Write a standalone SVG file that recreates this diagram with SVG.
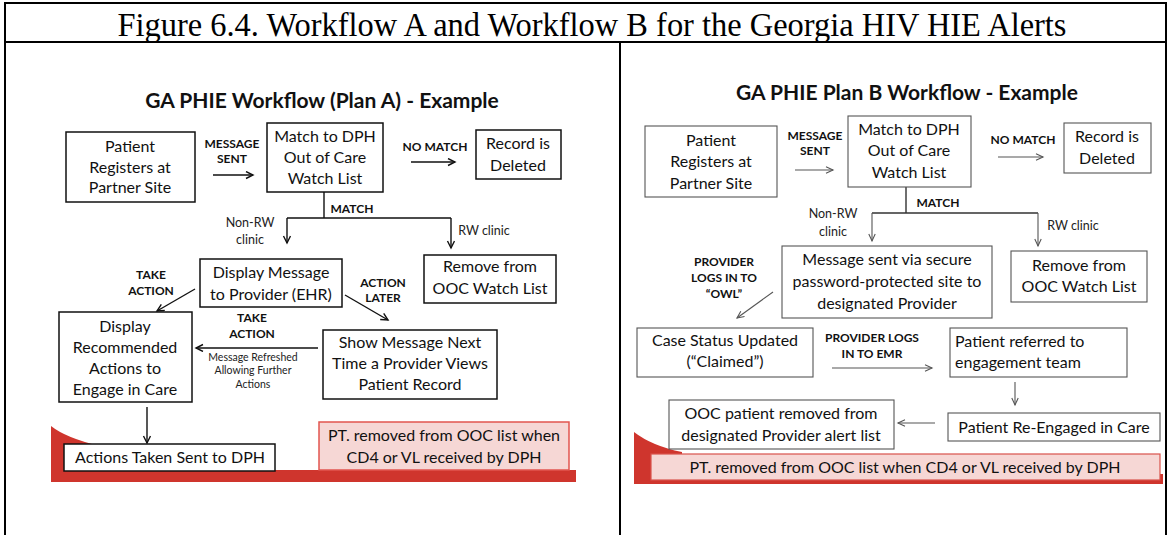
<svg xmlns="http://www.w3.org/2000/svg" width="1169" height="535" viewBox="0 0 1169 535">
<defs>
<marker id="arrA" markerUnits="userSpaceOnUse" markerWidth="10" markerHeight="10" refX="8" refY="4" orient="auto"><path d="M1,0.5 L8,4 L1,7.5" fill="none" stroke="#111" stroke-width="1.4"/></marker>
<marker id="arrB" markerUnits="userSpaceOnUse" markerWidth="10" markerHeight="10" refX="8" refY="4" orient="auto"><path d="M1,0.8 L8,4 L1,7.2" fill="none" stroke="#555" stroke-width="1.1"/></marker>
<style>
.frame{fill:none;stroke:#000;stroke-width:2}
.title{font-family:"Liberation Serif","Times New Roman",serif;font-size:34px;fill:#000}
.ptitle{font-family:Lato,"Open Sans",sans-serif;font-weight:bold;font-size:21px;fill:#111;text-anchor:middle}
.boxA{fill:#fff;stroke:#111;stroke-width:1.5}
.boxB{fill:#fff;stroke:#555;stroke-width:1.1}
.pink{fill:#f6d7d5;stroke:#e2554f;stroke-width:1.5}
.t{font-family:Lato,"Open Sans",sans-serif;font-size:16px;fill:#111;text-anchor:middle}
.tl{font-family:Lato,"Open Sans",sans-serif;font-size:16px;fill:#111}
.lb{font-family:Lato,"Open Sans",sans-serif;font-weight:bold;font-size:12px;fill:#111;text-anchor:middle}
.lr{font-family:Lato,"Open Sans",sans-serif;font-size:12.5px;fill:#222;text-anchor:middle}
.ls{font-family:Lato,"Open Sans",sans-serif;font-size:10.5px;fill:#222;text-anchor:middle}
.cA{fill:none;stroke:#111;stroke-width:1.4}
.cB{fill:none;stroke:#555;stroke-width:1.1}
.red{fill:#cf352d}
</style>
</defs>

<g id="table">
<rect class="frame" x="5" y="3" width="1161" height="540"/>
<line class="frame" x1="5" y1="42" x2="1166" y2="42"/>
<line class="frame" x1="620" y1="42" x2="620" y2="535"/>
<text class="title" x="592" y="36" text-anchor="middle" textLength="949" lengthAdjust="spacingAndGlyphs">Figure 6.4. Workflow A and Workflow B for the Georgia HIV HIE Alerts</text>
</g>

<g id="bandA">
<path class="red" d="M51,426 Q66,438 100,446 L100,482 L51,482 Z"/>
<rect class="red" x="51" y="470" width="525" height="12"/>
</g>
<g id="bandB">
<path class="red" d="M634,432 Q652,446 682,452 L682,484 L634,484 Z"/>
<rect class="red" x="634" y="474" width="529" height="10"/>
</g>

<text class="ptitle" x="322" y="108">GA PHIE Workflow (Plan A) - Example</text>
<text class="ptitle" x="907" y="100">GA PHIE Plan B Workflow - Example</text>

<g id="connectors">
<path class="cA" d="M213,175 H253" marker-end="url(#arrA)"/>
<path class="cA" d="M411,162 H455" marker-end="url(#arrA)"/>
<path class="cA" d="M324,192 V218 M287,218 H451"/>
<path class="cA" d="M287,218 V243" marker-end="url(#arrA)"/>
<path class="cA" d="M451,218 V248" marker-end="url(#arrA)"/>
<path class="cA" d="M195,289 L157,311" marker-end="url(#arrA)"/>
<path class="cA" d="M345,295 L388,320" marker-end="url(#arrA)"/>
<path class="cA" d="M318,348 H196" marker-end="url(#arrA)"/>
<path class="cA" d="M147,407 V443" marker-end="url(#arrA)"/>

<path class="cB" d="M795,170 H833" marker-end="url(#arrB)"/>
<path class="cB" d="M998,157 H1043" marker-end="url(#arrB)"/>
<path class="cB" d="M906,187 V213 M872,213 H1038" style="stroke:#333;stroke-width:1.4"/>
<path class="cB" d="M872,213 V241" marker-end="url(#arrB)"/>
<path class="cB" d="M1038,213 V246" marker-end="url(#arrB)"/>
<path class="cB" d="M773,292 L737,318" marker-end="url(#arrB)"/>
<path class="cB" d="M832,368 H932" marker-end="url(#arrB)"/>
<path class="cB" d="M1015,382 V405" marker-end="url(#arrB)"/>
<path class="cB" d="M935,423 H898" marker-end="url(#arrB)"/>
</g>

<g id="labels">
<text class="lb" x="232" y="148">MESSAGE</text><text class="lb" x="232" y="163">SENT</text>
<text class="lb" x="435" y="151">NO MATCH</text>
<text class="lb" x="352" y="213">MATCH</text>
<text class="lr" x="250" y="227">Non-RW</text><text class="lr" x="250" y="244">clinic</text>
<text class="lr" x="484" y="235">RW clinic</text>
<text class="lb" x="151" y="279">TAKE</text><text class="lb" x="151" y="295">ACTION</text>
<text class="lb" x="383" y="287">ACTION</text><text class="lb" x="383" y="302">LATER</text>
<text class="lb" x="252" y="322">TAKE</text><text class="lb" x="252" y="338">ACTION</text>
<text class="ls" x="253" y="361">Message Refreshed</text><text class="ls" x="253" y="374">Allowing Further</text><text class="ls" x="253" y="388">Actions</text>

<text class="lb" x="815" y="140">MESSAGE</text><text class="lb" x="815" y="155">SENT</text>
<text class="lb" x="1023" y="144">NO MATCH</text>
<text class="lb" x="938" y="207">MATCH</text>
<text class="lr" x="833" y="218">Non-RW</text><text class="lr" x="833" y="236">clinic</text>
<text class="lr" x="1073" y="230">RW clinic</text>
<text class="lb" x="724" y="266">PROVIDER</text><text class="lb" x="724" y="282">LOGS IN TO</text><text class="lb" x="724" y="298">“OWL”</text>
<text class="lb" x="872" y="342">PROVIDER LOGS</text><text class="lb" x="872" y="358">IN TO EMR</text>
</g>

<g id="a-patient"><rect class="boxA" x="66" y="132" width="129" height="70"/><text class="t" x="130" y="152">Patient</text><text class="t" x="130" y="173">Registers at</text><text class="t" x="130" y="193">Partner Site</text></g>
<g id="a-match"><rect class="boxA" x="267" y="123" width="116" height="69"/><text class="t" x="325" y="142">Match to DPH</text><text class="t" x="325" y="163">Out of Care</text><text class="t" x="325" y="184">Watch List</text></g>
<g id="a-deleted"><rect class="boxA" x="476" y="130" width="85" height="49"/><text class="t" x="518" y="149">Record is</text><text class="t" x="518" y="171">Deleted</text></g>
<g id="a-remove"><rect class="boxA" x="424" y="255" width="132" height="48"/><text class="t" x="490" y="272">Remove from</text><text class="t" x="490" y="294">OOC Watch List</text></g>
<g id="a-display"><rect class="boxA" x="200" y="259" width="142" height="48"/><text class="t" x="271" y="278">Display Message</text><text class="t" x="271" y="300">to Provider (EHR)</text></g>
<g id="a-recommended"><rect class="boxA" x="59" y="312" width="133" height="90"/><text class="t" x="125" y="332">Display</text><text class="t" x="125" y="353">Recommended</text><text class="t" x="125" y="374">Actions to</text><text class="t" x="125" y="395">Engage in Care</text></g>
<g id="a-show"><rect class="boxA" x="323" y="330" width="174" height="69"/><text class="t" x="410" y="348">Show Message Next</text><text class="t" x="410" y="369">Time a Provider Views</text><text class="t" x="410" y="390">Patient Record</text></g>
<g id="a-pt"><rect class="pink" x="319" y="422" width="250" height="48"/><text class="t" x="444" y="441">PT. removed from OOC list when</text><text class="t" x="444" y="463">CD4 or VL received by DPH</text></g>
<g id="a-actions"><rect class="boxA" x="64" y="444" width="211" height="27"/><text class="t" x="170" y="463">Actions Taken Sent to DPH</text></g>

<g id="b-patient"><rect class="boxB" x="645" y="126" width="132" height="71"/><text class="t" x="711" y="146">Patient</text><text class="t" x="711" y="167">Registers at</text><text class="t" x="711" y="189">Partner Site</text></g>
<g id="b-match"><rect class="boxB" x="848" y="116" width="123" height="71"/><text class="t" x="909" y="135">Match to DPH</text><text class="t" x="909" y="156">Out of Care</text><text class="t" x="909" y="178">Watch List</text></g>
<g id="b-deleted"><rect class="boxB" x="1064" y="123" width="87" height="50"/><text class="t" x="1107" y="142">Record is</text><text class="t" x="1107" y="164">Deleted</text></g>
<g id="b-message"><rect class="boxB" x="782" y="246" width="210" height="72"/><text class="t" x="887" y="265">Message sent via secure</text><text class="t" x="887" y="287">password-protected site to</text><text class="t" x="887" y="309">designated Provider</text></g>
<g id="b-remove"><rect class="boxB" x="1011" y="251" width="136" height="51"/><text class="t" x="1079" y="271">Remove from</text><text class="t" x="1079" y="292">OOC Watch List</text></g>
<g id="b-case"><rect class="boxB" x="637" y="328" width="176" height="49"/><text class="t" x="725" y="346">Case Status Updated</text><text class="t" x="725" y="367">(“Claimed”)</text></g>
<g id="b-referred"><rect class="boxB" x="950" y="328" width="177" height="49"/><text class="tl" x="955" y="347">Patient referred to</text><text class="tl" x="955" y="368">engagement team</text></g>
<g id="b-reengaged"><rect class="boxB" x="948" y="413" width="212" height="28"/><text class="t" x="1054" y="433">Patient Re-Engaged in Care</text></g>
<g id="b-ooc"><rect class="boxB" x="669" y="400" width="225" height="49"/><text class="t" x="781" y="419">OOC patient removed from</text><text class="t" x="781" y="441">designated Provider alert list</text></g>
<g id="b-pt"><rect class="pink" x="651" y="454" width="509" height="26" style="stroke:#d9524c;stroke-width:1.2"/><text class="t" x="905" y="473">PT. removed from OOC list when CD4 or VL received by DPH</text></g>
</svg>
